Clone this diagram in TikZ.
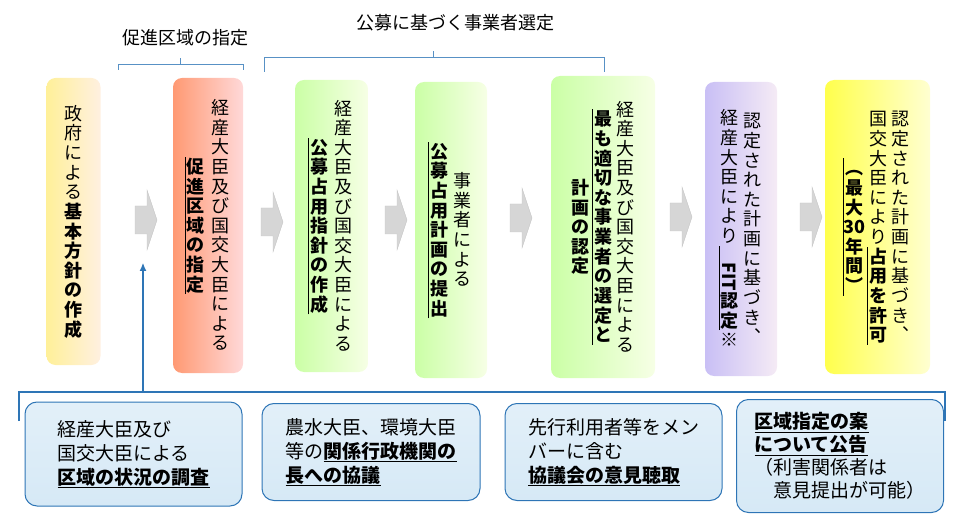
\documentclass[tikz,border=0pt]{standalone}
\usepackage{fontspec}
\setmainfont{Noto Sans CJK JP}
\usetikzlibrary{arrows.meta}
\def\vtx#1{\ifx\vtend#1\else\hbox to 1.1em{\vrule width0pt height0.92em depth0.17em\hss#1\hss}\expandafter\vtx\fi}
\newcommand\vt[1]{\vbox{\offinterlineskip\vtx#1\vtend}}
\newcommand\vbn[1]{\vbox{\offinterlineskip\bfseries\vtx#1\vtend}}
\newcommand\vb[1]{\hbox{\setbox0=\vbox{\offinterlineskip\bfseries\vtx#1\vtend}\hbox to 0pt{\hss\vrule width .7pt height\ht0 depth\dp0\kern0.5pt}\box0}}
\newcommand\col[1]{\vcenter{\offinterlineskip #1}}
\definecolor{bblue}{RGB}{46,117,182}
\definecolor{bfill}{RGB}{214,233,246}
\tikzset{
  stepbox/.style={rounded corners=9pt, minimum width=#1, inner sep=0pt},
  vtext/.style={font=\fontsize{18}{20}\selectfont},
  gray arrow/.style={fill=black!16, draw=black!22, line width=0.4pt},
  bl/.style={draw=bblue, line width=1.1pt},
  infobox/.style={rounded corners=12pt, draw=bblue, line width=1pt, top color=bfill!70!white, bottom color=bfill, inner sep=0pt, align=left, font=\fontsize{19}{24}\selectfont},
  toplabel/.style={font=\fontsize{18}{20}\selectfont},
}
\newcommand\garrow[2]{\fill[gray arrow] (#1,#2-14) -- (#1+12,#2-14) -- (#1+12,#2-30) -- (#1+22,#2) -- (#1+12,#2+30) -- (#1+12,#2+14) -- (#1,#2+14) -- cycle;}
\begin{document}
\begin{tikzpicture}[x=1pt,y=-1pt]
\useasboundingbox (0,0) rectangle (960,526);
% main boxes
\node[stepbox=54pt, minimum height=287pt, left color=orange!30!yellow!40, right color=orange!12, vtext] (s1) at (73.5,221.5)
 {$\col{\vt{政府による}\vbn{基本方針の作成}}$};
\node[stepbox=70pt, minimum height=295pt, left color=red!45!orange!55, right color=red!15, vtext] (s2) at (208,225.5)
 {$\col{\vb{促進区域の指定}}\kern5pt\col{\vt{経産大臣及び国交大臣による}}$};
\node[stepbox=73pt, minimum height=292pt, left color=green!45!lime!35, right color=green!10!lime!10, vtext] (s3) at (331.5,226)
 {$\col{\vb{公募占用指針の作成}}\kern5pt\col{\vt{経産大臣及び国交大臣による}}$};
\node[stepbox=72pt, minimum height=296pt, left color=green!45!lime!35, right color=green!10!lime!10, vtext] (s4) at (451,230)
 {$\col{\vb{公募占用計画の提出}}\kern4pt\col{\vt{事業者による}}$};
\node[stepbox=104pt, minimum height=302pt, left color=green!45!lime!35, right color=green!10!lime!10, vtext] (s5) at (603,227)
 {$\col{\vbn{計画の認定}}\kern3pt\col{\vb{最も適切な事業者の選定と}}\kern3pt\col{\vt{経産大臣及び国交大臣による}}$};
\node[stepbox=72pt, minimum height=294pt, left color=violet!30!blue!25, right color=violet!8, vtext] (s6) at (741,229)
 {$\col{\vt{経産大臣により}\vb{{\rotatebox{-90}{FIT}}認定}\vt{※}}\kern3pt\col{\vt{認定された計画に基づき︑}}$};
\node[stepbox=105pt, minimum height=294pt, left color=yellow!70, right color=yellow!18, vtext] (s7) at (877.5,227)
 {$\col{\vb{︵最大{30}年間︶}}\kern4pt\col{\vt{国交大臣により}\vb{占用を許可}}\kern3pt\col{\vt{認定された計画に基づき︑}}$};
% gray arrows
\garrow{135}{220}
\garrow{261}{222}
\garrow{385}{220}
\garrow{510}{218}
\garrow{670}{217}
\garrow{800}{217}
% top brackets
\node[toplabel] (l1) at (185,38) {促進区域の指定};
\node[toplabel] (l2) at (455,23) {公募に基づく事業者選定};
\draw[bl, line width=0.8pt, draw=bblue!80] (118,70) -- (118,64) -- (243,64) -- (243,70) (180,64) -- (180,58);
\draw[bl, line width=0.8pt, draw=bblue!80] (264,72) -- (264,57) -- (604,57) -- (604,72) (433,57) -- (433,51);
% bottom bracket and arrow
\draw[bl] (19,421) -- (19,392) -- (945,392) -- (945,421);
\coordinate (up0) at (143,392);
\coordinate (up1) at (143,263);
\draw[bl, -{Latex[length=8pt,width=7pt]}] (up0) -- (up1);
% info boxes
\node[infobox, minimum width=217pt, minimum height=104pt] (i1) at (133.5,454)
 {経産大臣及び\\ 国交大臣による\\ \textbf{\underline{区域の状況の調査}}};
\node[infobox, minimum width=218pt, minimum height=97pt] (i2) at (371,452)
 {農水大臣、環境大臣\\ 等の\textbf{\underline{関係行政機関の}}\\ \textbf{\underline{長への協議}}};
\node[infobox, minimum width=217pt, minimum height=97pt] (i3) at (613.5,452)
 {先行利用者等をメン\\ バーに含む\\ \textbf{\underline{協議会の意見聴取}}};
\node[infobox, minimum width=207pt, minimum height=113pt, font=\fontsize{19}{23}\selectfont] (i4) at (840,456)
 {\textbf{\underline{区域指定の案}}\\ \textbf{\underline{について公告}}\\ （利害関係者は\\ \hspace{1em}意見提出が可能）};
\end{tikzpicture}
\end{document}
